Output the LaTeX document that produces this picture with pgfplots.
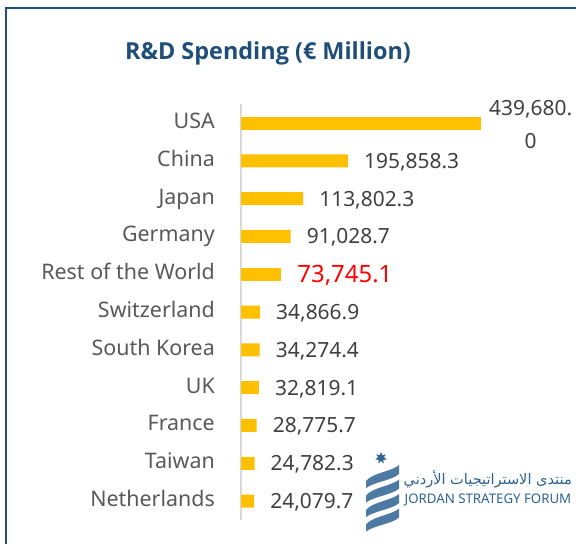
\documentclass[border=0pt]{standalone}
\usepackage{fontspec}
\setmainfont{Noto Sans}
\newfontfamily\titlefont{Open Sans}
\newfontfamily\arabicfont[Script=Arabic]{DejaVu Sans}
\usepackage{pgfplots}
\pgfplotsset{compat=1.18}
\usetikzlibrary{shapes.geometric}
\TeXXeTstate=1
\definecolor{barc}{HTML}{FFC000}
\definecolor{framec}{HTML}{1F4E79}
\definecolor{lab}{HTML}{595959}
\definecolor{valc}{HTML}{404040}
\definecolor{logoc}{HTML}{2E6393}
\begin{document}
\begin{tikzpicture}[x=1bp,y=1bp]
\path[use as bounding box] (0,0) rectangle (576,544);
\fill[white] (0,0) rectangle (576,544);
\draw[framec, line width=2bp] (6,-20) -- (6,536) -- (600,536);
\node[anchor=base, text=framec, font=\titlefont\bfseries\fontsize{23.5}{27}\selectfont] at (268,484) {R\&D Spending (€ Million)};
\begin{axis}[
  at={(241bp,24bp)}, anchor=south west,
  scale only axis, width=240bp, height=415.8bp,
  xmin=0, xmax=439680, ymin=-0.5, ymax=10.5,
  axis x line=none, axis y line*=left,
  axis line style={draw=black!15, line width=1.5bp},
  ytick={0,...,10},
  yticklabels={Netherlands,Taiwan,France,UK,South Korea,Switzerland,Rest of the World,Germany,Japan,China,USA},
  major tick length=0pt,
  yticklabel style={font=\fontsize{21.5}{24}\selectfont, text=lab, anchor=base east, inner sep=0pt, yshift=-5.5bp, xshift=-26bp},
  xbar, bar width=13bp,
  clip=false,
]
\addplot[fill=barc, draw=none, bar shift=0pt,
  nodes near coords, point meta=explicit symbolic,
  nodes near coords style={anchor=base west, inner sep=0pt, xshift=16bp, yshift=-7.5bp, font=\fontsize{21}{24}\selectfont, text=valc}]
  table[meta=lbl]{
x y lbl
24079.7 0 24,079.7
24782.3 1 24,782.3
28775.7 2 28,775.7
32819.1 3 32,819.1
34274.4 4 34,274.4
34866.9 5 34,866.9
91028.7 7 91,028.7
113802.3 8 113,802.3
195858.3 9 195,858.3
};
\addplot[fill=barc, draw=none, bar shift=0pt,
  nodes near coords, point meta=explicit symbolic,
  nodes near coords style={anchor=base west, inner sep=0pt, xshift=16bp, yshift=-8.5bp, font=\fontsize{24}{28}\selectfont, text=red}]
  table[meta=lbl]{
x y lbl
73745.1 6 73,745.1
};
\addplot[fill=barc, draw=none, bar shift=0pt,
  nodes near coords={439,680.\\0},
  nodes near coords style={anchor=west, align=center, inner sep=0pt, xshift=8bp, yshift=-1bp, font=\fontsize{21}{33}\selectfont, text=valc}]
  coordinates {(439680.0,10)};
\end{axis}
% logo
\node[star, star points=7, star point ratio=2, fill=logoc, minimum size=12bp, inner sep=0pt] at (381,86) {};
\foreach \t in {0,1,2,3}{
  \fill[logoc!85] ({399},{79-14.5*\t}) .. controls (393,{73-14.5*\t}) and (372,{71-14.5*\t}) .. (366,{63-14.5*\t})
     -- (366,{56-14.5*\t}) .. controls (374,{62-14.5*\t}) and (393,{64-14.5*\t}) .. (399,{70-14.5*\t}) -- cycle;
}
\node[anchor=base east, text=logoc, font=\arabicfont\fontsize{14.6}{17}\selectfont, inner sep=0pt] at (572,59) {\beginR منتدى الاستراتيجيات الأردني\endR};
\node[anchor=base, text=logoc, font=\fontsize{13.3}{15}\selectfont, inner sep=0pt] at (488,40) {JORDAN STRATEGY FORUM};
\end{tikzpicture}
\end{document}
